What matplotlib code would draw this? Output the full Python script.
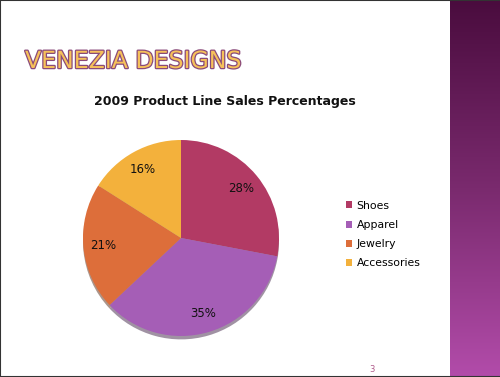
import matplotlib.pyplot as plt
import matplotlib.patheffects as pe
import numpy as np
from matplotlib.colors import LinearSegmentedColormap

# data
categories = ['Shoes', 'Apparel', 'Jewelry', 'Accessories']
shares = [28, 35, 21, 16]
colors = ['#b23a64', '#a55eb6', '#dd6e3a', '#f3b13c']

fig = plt.figure(figsize=(5, 3.77), dpi=100)
fig.patch.set_facecolor('white')

# purple strip on the right
strip = fig.add_axes([450 / 500, 0, 50 / 500, 1])
grad = LinearSegmentedColormap.from_list('strip', ['#4a0c3e', '#7a2a6e', '#b24caa'])
strip.imshow(np.linspace(0, 1, 256)[:, None], aspect='auto', cmap=grad)
strip.axis('off')

# slide heading
fig.text(25 / 500, 1 - 61 / 377, 'VENEZIA DESIGNS', fontsize=17,
         color='#f6c15a', va='center', ha='left', family='DejaVu Sans',
         path_effects=[pe.withStroke(linewidth=1.8, foreground='#8a4a7a')])

# chart title
fig.text(225 / 500, 1 - 102 / 377, '2009 Product Line Sales Percentages',
         fontsize=9, fontweight='bold', ha='center', va='center', color='#111111')

# pie
ax = fig.add_axes([83 / 500, 41 / 377, 196 / 500, 196 / 377])
wedges, texts, autotexts = ax.pie(shares, colors=colors, startangle=90, counterclock=False,
                                  autopct='%d%%', pctdistance=0.8,
                                  shadow={'ox': 0.0, 'oy': -0.025, 'shade': 0.6},
                                  wedgeprops={'linewidth': 0})
for t in autotexts:
    t.set_fontsize(8.5)
    t.set_color('#111111')
ax.set_xlim(-1, 1)
ax.set_ylim(-1, 1)
ax.set_aspect('equal')
for p in ax.patches:
    p.set_clip_on(False)

# legend
fig.legend(wedges, categories, loc='upper left', bbox_to_anchor=(336 / 500, 1 - 191 / 377),
           frameon=False, fontsize=7.8, handlelength=0.6, handleheight=0.6,
           handletextpad=0.4, labelspacing=0.85)

# page number
fig.text(372 / 500, 1 - 369 / 377, '3', fontsize=6, color='#b05a8a', ha='center', va='center')

# thin border
for x0, y0, x1, y1 in [(0, 0, 0, 1), (0, 1, 1, 1), (0, 0, 1, 0)]:
    fig.add_artist(plt.Line2D([x0, x1], [y0, y1], color='#333333', lw=1.5,
                              transform=fig.transFigure))

fig.savefig('out.png', dpi=100)
